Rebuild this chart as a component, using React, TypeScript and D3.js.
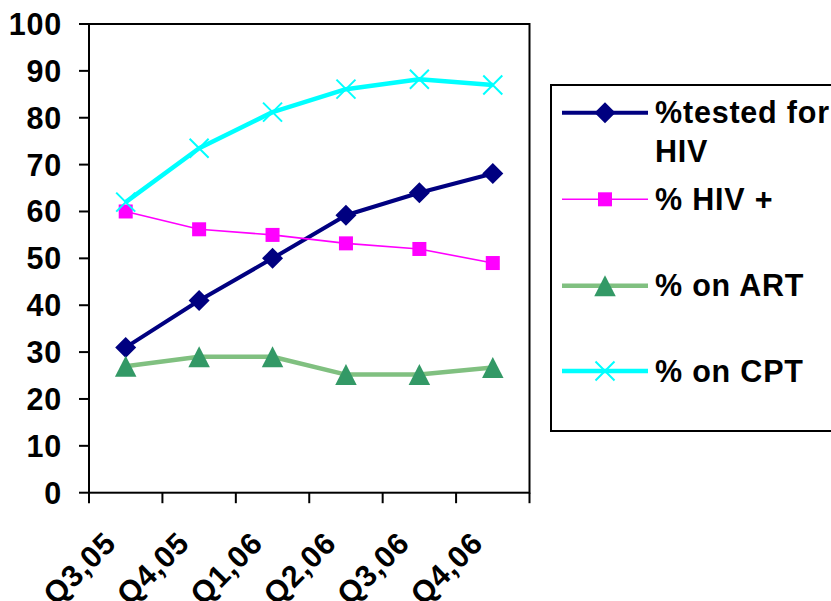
import React from "react";
import * as d3 from "d3";

const categories = ["Q3,05", "Q4,05", "Q1,06", "Q2,06", "Q3,06", "Q4,06"];
const testedForHIV = [31, 41, 50, 59.2, 64, 68.1];
const hivPositive = [60, 56.2, 55, 53.2, 52, 49];
const onART = [27, 29, 29, 25.2, 25.2, 26.7];
const onCPT = [62, 73.5, 81.2, 86.1, 88.2, 87];
const yTicks = [0, 10, 20, 30, 40, 50, 60, 70, 80, 90, 100];

const W = 831;
const H = 601;
const plot = { left: 89, right: 529.5, top: 24, bottom: 492.7 };
const FONT = "'Liberation Sans', Arial, sans-serif";
const FS = 30.5;
const LS = 0.8;

type Series = {
  name: string[];
  values: number[];
  color: string;
  width: number;
  marker: "diamond" | "square" | "triangle" | "x";
  markerColor: string;
  legendY: number;
};

const series: Series[] = [
  { name: ["%tested for", "HIV"], values: testedForHIV, color: "#000080", width: 4, marker: "diamond", markerColor: "#000080", legendY: 112.7 },
  { name: ["% HIV +"], values: hivPositive, color: "#FF00FF", width: 1.6, marker: "square", markerColor: "#FF00FF", legendY: 199.3 },
  { name: ["% on ART"], values: onART, color: "#80C080", width: 4.5, marker: "triangle", markerColor: "#339966", legendY: 285.7 },
  { name: ["% on CPT"], values: onCPT, color: "#00FFFF", width: 4.5, marker: "x", markerColor: "#00FFFF", legendY: 371 },
];

function Marker({ type, x, y, color }: { type: string; x: number; y: number; color: string }) {
  if (type === "diamond") {
    const r = 10.5;
    return <path d={`M${x},${y - r}L${x + r},${y}L${x},${y + r}L${x - r},${y}Z`} fill={color} />;
  }
  if (type === "square") {
    const s = 14;
    return <rect x={x - s / 2} y={y - s / 2} width={s} height={s} fill={color} />;
  }
  if (type === "triangle") {
    const w = 21.5;
    const h = 21;
    return <path d={`M${x},${y - h / 2}L${x + w / 2},${y + h / 2}L${x - w / 2},${y + h / 2}Z`} fill={color} />;
  }
  const r = 9.5;
  return (
    <path
      d={`M${x - r},${y - r}L${x + r},${y + r}M${x - r},${y + r}L${x + r},${y - r}`}
      stroke={color}
      strokeWidth={2}
      fill="none"
    />
  );
}

export default function App() {
  const x = d3.scaleBand<string>().domain(categories).range([plot.left, plot.right]);
  const y = d3.scaleLinear().domain([0, 100]).range([plot.bottom, plot.top]);
  const cx = (c: string) => (x(c) as number) + x.bandwidth() / 2;
  const line = d3
    .line<number>()
    .x((_, i) => cx(categories[i]))
    .y((v) => y(v));

  const bandEdges = categories.map((c) => x(c) as number).concat([plot.right]);

  return (
    <svg width={W} height={H} style={{ position: "absolute", left: 0, top: 0, background: "#fff" }}>
      <rect x={0} y={0} width={W} height={H} fill="#fff" />
      <rect
        x={plot.left}
        y={plot.top}
        width={plot.right - plot.left}
        height={plot.bottom - plot.top}
        fill="none"
        stroke="#000"
        strokeWidth={2}
      />
      {yTicks.map((t) => (
        <g key={t}>
          <line x1={79} x2={plot.left} y1={y(t)} y2={y(t)} stroke="#000" strokeWidth={2} />
          <text
            x={62}
            y={y(t)}
            dy="0.36em"
            textAnchor="end"
            fontFamily={FONT}
            fontWeight="bold"
            fontSize={FS}
            letterSpacing={LS}
            fill="#000"
          >
            {t}
          </text>
        </g>
      ))}
      {bandEdges.map((e, i) => (
        <line key={i} x1={e} x2={e} y1={plot.bottom} y2={plot.bottom + 10.5} stroke="#000" strokeWidth={2} />
      ))}
      {categories.map((c) => (
        <text
          key={c}
          transform={`translate(${cx(c) - 8},${545}) rotate(-45)`}
          textAnchor="end"
          fontFamily={FONT}
          fontWeight="bold"
          fontSize={FS}
          letterSpacing={LS}
          fill="#000"
        >
          {c}
        </text>
      ))}
      {series.map((s, si) => (
        <g key={si}>
          <path d={line(s.values) || ""} fill="none" stroke={s.color} strokeWidth={s.width} strokeLinejoin="round" />
          {s.values.map((v, i) => (
            <Marker key={i} type={s.marker} x={cx(categories[i])} y={y(v)} color={s.markerColor} />
          ))}
        </g>
      ))}
      <rect x={551} y={85} width={300} height={346} fill="none" stroke="#000" strokeWidth={2} />
      {series.map((s, si) => (
        <g key={si}>
          <line x1={562} x2={648} y1={s.legendY} y2={s.legendY} stroke={s.color} strokeWidth={s.width} />
          <Marker type={s.marker} x={605} y={s.legendY} color={s.markerColor} />
          {s.name.map((n, ni) => (
            <text
              key={ni}
              x={655}
              y={s.legendY + 10.5 + ni * 38.7}
              fontFamily={FONT}
              fontWeight="bold"
              fontSize={FS}
              letterSpacing={LS}
              fill="#000"
            >
              {n}
            </text>
          ))}
        </g>
      ))}
    </svg>
  );
}
